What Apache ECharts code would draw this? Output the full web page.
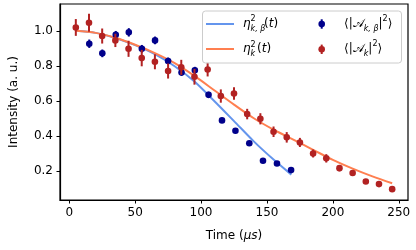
<!DOCTYPE html>
<html>
<head>
<meta charset="utf-8">
<script src="https://cdn.jsdelivr.net/npm/echarts@6/dist/echarts.min.js"></script>
<style>
html,body{margin:0;padding:0;background:#fff;}
#c{width:416px;height:250px;}
</style>
</head>
<body>
<div id="c"></div>
<script>
// ---- data ----
const redT   = [5,15,25,35,45,55,65,75,85,95,105,115,125,135,145,155,165,175,185,195,205,215,225,235,245];
const redV   = [1.019,1.046,0.970,0.945,0.897,0.844,0.823,0.770,0.791,0.737,0.779,0.627,0.642,0.524,0.497,0.423,0.391,0.362,0.299,0.271,0.215,0.187,0.139,0.124,0.095];
const redErr = [0.048,0.052,0.043,0.038,0.046,0.047,0.043,0.043,0.043,0.045,0.040,0.038,0.036,0.030,0.032,0.030,0.030,0.026,0.023,0.024,0.018,0.015,0.012,0.010,0.010];

const blueT   = [15.2,25.1,35.3,45.2,55.1,65.1,75.0,85.2,95.3,105.7,115.9,126.1,136.6,147.0,157.6,168.3];
const blueV   = [0.926,0.871,0.977,0.991,0.897,0.945,0.827,0.762,0.774,0.634,0.488,0.429,0.357,0.257,0.242,0.204];
const blueErr = [0.024,0.022,0.022,0.024,0.022,0.022,0.020,0.020,0.020,0.018,0.015,0.014,0.012,0.010,0.010,0.010];

const fitOrangeT = [5,20,35,50,65,80,95,110,125,140,155,170,185,200,215,230,245];
const fitOrangeV = [1.0,0.988,0.960,0.920,0.872,0.815,0.742,0.660,0.578,0.500,0.435,0.378,0.320,0.262,0.212,0.168,0.129];
const fitBlueT = [5,20,35,50,65,80,95,110,125,140,155,168.5];
const fitBlueV = [1.0,0.988,0.959,0.918,0.866,0.797,0.710,0.599,0.484,0.368,0.264,0.178];

const xTicks = [0,50,100,150,200,250];
const yTicks = [0.2,0.4,0.6,0.8,1.0];

// ---- styles ----
const FONT = 'DejaVu Sans';
const C_BLUE_LINE = '#6495ED';
const C_ORANGE_LINE = '#FF7F50';
const C_BLUE_DOT = '#00008B';
const C_RED_DOT = '#B22222';

function zip(a, b, c) { return a.map((v, i) => c ? [v, b[i], c[i]] : [v, b[i]]); }

function errRender(color) {
  return function (params, api) {
    const x = api.value(0), y = api.value(1), e = api.value(2);
    const p = api.coord([x, y]);
    const lo = api.coord([x, y - e]);
    const hi = api.coord([x, y + e]);
    return {
      type: 'group',
      children: [
        { type: 'line', shape: { x1: p[0], y1: lo[1], x2: p[0], y2: hi[1] }, style: { stroke: color, lineWidth: 2 } },
        { type: 'circle', shape: { cx: p[0], cy: p[1], r: 3.3 }, style: { fill: color } }
      ]
    };
  };
}

const chart = echarts.init(document.getElementById('c'), null, { renderer: 'canvas' });

const legendX = 202.5, legendY = 11;
const small = { fontFamily: FONT, fontSize: 8, fill: '#000' };

const option = {
  animation: false,
  backgroundColor: '#fff',
  grid: { left: 54, right: 8, top: 4, bottom: 50, show: true, borderColor: '#000', borderWidth: 1.2, backgroundColor: 'transparent' },
  xAxis: {
    type: 'value', min: -7, max: 257,
    name: '{n|Time (}{i|μs}{n|)}', nameLocation: 'middle', nameGap: 30,
    nameTextStyle: { fontFamily: FONT, fontSize: 12, color: '#000',
      rich: { n: { fontFamily: FONT, fontSize: 12, color: '#000' }, i: { fontFamily: FONT, fontSize: 12, fontStyle: 'italic', color: '#000' } } },
    splitLine: { show: false },
    axisLine: { show: true, onZero: false, lineStyle: { color: '#000', width: 1.2 } },
    axisTick: { show: true, length: 3.5, lineStyle: { color: '#000', width: 1 }, customValues: xTicks },
    axisLabel: { fontFamily: FONT, fontSize: 12, color: '#000', margin: 7, customValues: xTicks, formatter: v => String(v) }
  },
  yAxis: {
    type: 'value', min: 0.033, max: 1.153,
    name: 'Intensity (a. u.)', nameLocation: 'middle', nameGap: 40,
    nameTextStyle: { fontFamily: FONT, fontSize: 12, color: '#000' },
    splitLine: { show: false },
    axisLine: { show: true, onZero: false, lineStyle: { color: '#000', width: 1.2 } },
    axisTick: { show: true, length: 3.5, lineStyle: { color: '#000', width: 1 }, customValues: yTicks },
    axisLabel: { fontFamily: FONT, fontSize: 12, color: '#000', margin: 7, customValues: yTicks, formatter: v => v.toFixed(1) }
  },
  series: [
    { type: 'line', data: zip(fitBlueT, fitBlueV), smooth: 0.3, showSymbol: false, lineStyle: { color: C_BLUE_LINE, width: 2 }, z: 2 },
    { type: 'line', data: zip(fitOrangeT, fitOrangeV), smooth: 0.3, showSymbol: false, lineStyle: { color: C_ORANGE_LINE, width: 2 }, z: 2 },
    { type: 'custom', data: zip(blueT, blueV, blueErr), renderItem: errRender(C_BLUE_DOT), z: 3, encode: { x: 0, y: 1 } },
    { type: 'custom', data: zip(redT, redV, redErr), renderItem: errRender(C_RED_DOT), z: 3, encode: { x: 0, y: 1 } }
  ],
  graphic: [
    { type: 'rect', z: 100, shape: { x: legendX, y: legendY, width: 199, height: 52, r: 3 },
      style: { fill: 'rgba(255,255,255,0.8)', stroke: '#cccccc', lineWidth: 1 } },
    // line handles
    { type: 'line', z: 101, shape: { x1: 206, y1: 24, x2: 234, y2: 24 }, style: { stroke: C_BLUE_LINE, lineWidth: 2 } },
    { type: 'line', z: 101, shape: { x1: 206, y1: 49, x2: 234, y2: 49 }, style: { stroke: C_ORANGE_LINE, lineWidth: 2 } },
    // errorbar handles
    { type: 'line', z: 101, shape: { x1: 321.7, y1: 19.3, x2: 321.7, y2: 28.7 }, style: { stroke: C_BLUE_DOT, lineWidth: 2 } },
    { type: 'circle', z: 101, shape: { cx: 321.7, cy: 24, r: 3.3 }, style: { fill: C_BLUE_DOT } },
    { type: 'line', z: 101, shape: { x1: 321.7, y1: 44.6, x2: 321.7, y2: 54 }, style: { stroke: C_RED_DOT, lineWidth: 2 } },
    { type: 'circle', z: 101, shape: { cx: 321.7, cy: 49.3, r: 3.3 }, style: { fill: C_RED_DOT } },
    // label 1: eta^2_{k,beta}(t)
    { type: 'text', z: 101, x: 243, y: 24, style: { text: 'η', fontFamily: FONT, fontSize: 12, fontStyle: 'italic', fill: '#000', verticalAlign: 'middle' } },
    { type: 'text', z: 101, x: 250.5, y: 19, style: Object.assign({ text: '2', verticalAlign: 'middle' }, small) },
    { type: 'text', z: 101, x: 250.5, y: 29, style: Object.assign({ text: 'k, β', fontStyle: 'italic', verticalAlign: 'middle' }, small) },
    { type: 'text', z: 101, x: 264, y: 24, style: { text: '{n|(}{i|t}{n|)}', verticalAlign: 'middle',
      rich: { n: { fontFamily: FONT, fontSize: 12, fill: '#000' }, i: { fontFamily: FONT, fontSize: 12, fontStyle: 'italic', fill: '#000' } } } },
    // label 2: eta^2_k(t)
    { type: 'text', z: 101, x: 243, y: 49.3, style: { text: 'η', fontFamily: FONT, fontSize: 12, fontStyle: 'italic', fill: '#000', verticalAlign: 'middle' } },
    { type: 'text', z: 101, x: 250.5, y: 44.5, style: Object.assign({ text: '2', verticalAlign: 'middle' }, small) },
    { type: 'text', z: 101, x: 250.5, y: 54, style: Object.assign({ text: 'k', fontStyle: 'italic', verticalAlign: 'middle' }, small) },
    { type: 'text', z: 101, x: 257, y: 49.3, style: { text: '{n|(}{i|t}{n|)}', verticalAlign: 'middle',
      rich: { n: { fontFamily: FONT, fontSize: 12, fill: '#000' }, i: { fontFamily: FONT, fontSize: 12, fontStyle: 'italic', fill: '#000' } } } },
    // label 3: <|A_{k,beta}|^2>
    { type: 'text', z: 101, x: 344, y: 24, style: { text: '{n|⟨|}{a|𝒜}{s|k, β}{n||}{p|2}{n|⟩}', verticalAlign: 'middle',
      rich: {
        n: { fontFamily: FONT, fontSize: 12, fill: '#000', lineHeight: 18 },
        a: { fontFamily: FONT, fontSize: 12, fill: '#000', lineHeight: 18 },
        s: { fontFamily: FONT, fontSize: 8, fontStyle: 'italic', fill: '#000', verticalAlign: 'bottom', lineHeight: 18 },
        p: { fontFamily: FONT, fontSize: 8, fill: '#000', verticalAlign: 'top', lineHeight: 18 } } } },
    // label 4: <|A_k|^2>
    { type: 'text', z: 101, x: 344, y: 49.3, style: { text: '{n|⟨|}{a|𝒜}{s|k}{n||}{p|2}{n|⟩}', verticalAlign: 'middle',
      rich: {
        n: { fontFamily: FONT, fontSize: 12, fill: '#000', lineHeight: 18 },
        a: { fontFamily: FONT, fontSize: 12, fill: '#000', lineHeight: 18 },
        s: { fontFamily: FONT, fontSize: 8, fontStyle: 'italic', fill: '#000', verticalAlign: 'bottom', lineHeight: 18 },
        p: { fontFamily: FONT, fontSize: 8, fill: '#000', verticalAlign: 'top', lineHeight: 18 } } } }
  ]
};
chart.setOption(option);
</script>
</body>
</html>
